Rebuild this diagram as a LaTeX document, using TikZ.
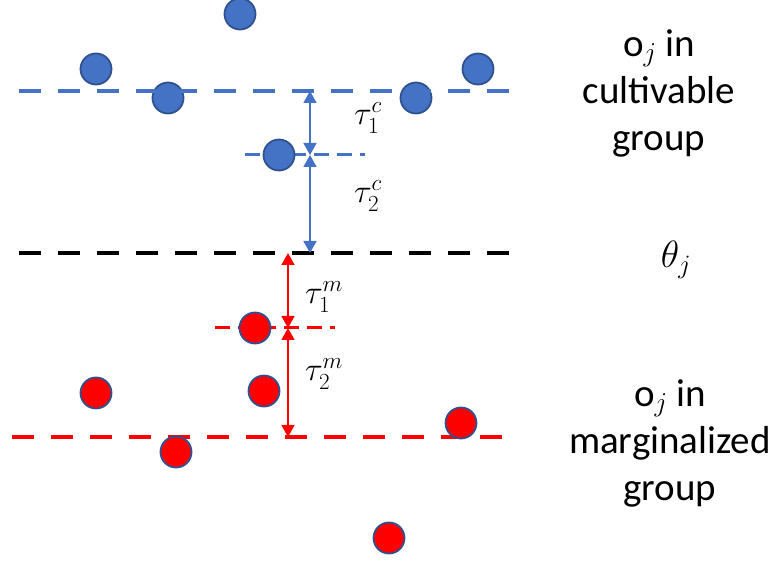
\RequirePackage{fix-cm}
\documentclass[tikz,border=0pt]{standalone}
\usepackage{amsmath}
\usepackage{fontspec}
\setmainfont{Carlito}
\usetikzlibrary{arrows.meta}

\definecolor{dotblue}{HTML}{4472C4}
\definecolor{rimblue}{HTML}{2F528F}
\definecolor{dotred}{HTML}{FF0000}

\tikzset{
  bluedot/.style={circle,draw=rimblue,line width=1.8pt,fill=dotblue,minimum size=31pt,inner sep=0pt},
  reddot/.style={circle,draw=rimblue,line width=1.8pt,fill=dotred,minimum size=31pt,inner sep=0pt},
  groupline/.style={line width=4.5pt,dash pattern=on 22pt off 17pt},
  subline/.style={line width=3pt,dash pattern=on 15pt off 8pt},
  gap/.style={line width=1.8pt,{Triangle[width=13pt,length=12pt]}-{Triangle[width=13pt,length=12pt]}},
  label/.style={font=\fontsize{39}{47}\selectfont,align=center},
  tau/.style={font=\fontsize{33}{38}\selectfont,inner sep=0pt}
}

\begin{document}
\begin{tikzpicture}[x=1pt,y=-1pt]
\useasboundingbox (0,0) rectangle (777,561);

% Cultivable group
\node[bluedot] (c1) at (240,14) {};
\node[bluedot] (c2) at (96,69) {};
\node[bluedot] (c3) at (168,98) {};
\node[bluedot] (c4) at (416,98) {};
\node[bluedot] (c5) at (478,69) {};
\draw[groupline,dotblue] (19,91) -- (509,91);

% Second blue level
\draw[subline,dotblue] (245,155) -- (365,155);
\node[bluedot] (c6) at (279,155) {};

% Threshold
\draw[groupline,black] (19,253) -- (509,253);

% Marginalized group
\draw[subline,dotred] (215,328) -- (335,328);
\draw[groupline,dotred] (12,437) -- (505,437);
\node[reddot] (m1) at (255,328) {};
\node[reddot] (m2) at (96,393) {};
\node[reddot] (m3) at (264,391) {};
\node[reddot] (m4) at (176,452) {};
\node[reddot] (m5) at (461,423) {};
\node[reddot] (m6) at (389,538) {};

% Gaps
\coordinate (b0) at (310,91);
\coordinate (b1) at (310,155);
\coordinate (b2) at (310,253);
\coordinate (r0) at (288,253);
\coordinate (r1) at (288,328);
\coordinate (r2) at (288,437);
\draw[gap,dotblue] (b0) -- (b1);
\draw[gap,dotblue] (b1) -- (b2);
\draw[gap,dotred] (r0) -- (r1);
\draw[gap,dotred] (r1) -- (r2);

\node[tau] (t1c) at (368,118) {$\tau_1^c$};
\node[tau] (t2c) at (368,196) {$\tau_2^c$};
\node[tau] (t1m) at (324,297) {$\tau_1^m$};
\node[tau] (t2m) at (324,374) {$\tau_2^m$};

% Labels
\node[label] (cult) at (659,93) {o$_j$ in\\cultivable\\group};
\node[font=\fontsize{38}{46}\selectfont,inner sep=0pt] (theta) at (676,260) {$\theta_j$};
\node[label] (marg) at (670,443) {o$_j$ in\\marginalized\\group};
\end{tikzpicture}
\end{document}
